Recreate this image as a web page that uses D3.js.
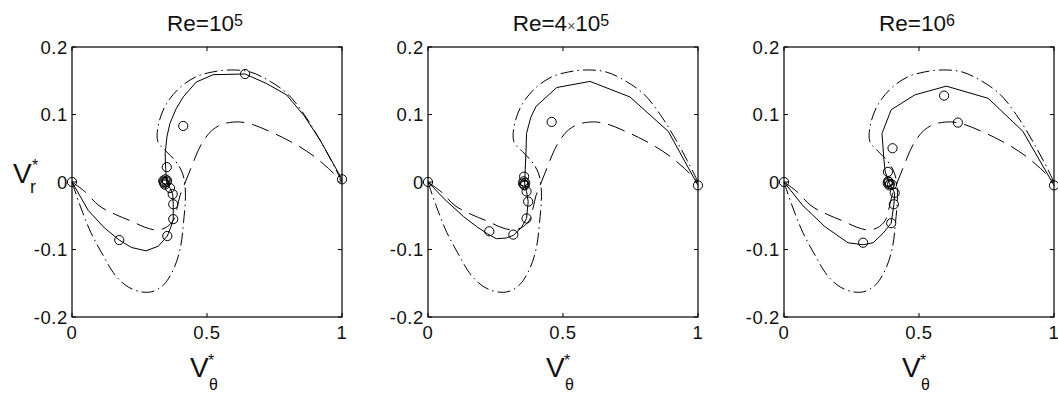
<!DOCTYPE html>
<html>
<head>
<meta charset="utf-8">
<script src="https://cdn.jsdelivr.net/npm/d3@7/dist/d3.min.js"></script>
<style>
  html, body { margin: 0; padding: 0; background: #fff; }
  svg { display: block; }
  text { font-family: "Liberation Sans", Arial, sans-serif; fill: #111; }
</style>
</head>
<body>
<svg id="chart" width="1058" height="401"></svg>
<script>
// ---- data ----
const xTicks = [0, 0.5, 1];
const xTickLabels = ["0", "0.5", "1"];
const yTicks = [-0.2, -0.1, 0, 0.1, 0.2];
const yTickLabels = ["-0.2", "-0.1", "0", "0.1", "0.2"];

const titlesBase = ["Re=10", "Re=4", "Re=10"];
const titlesExp = ["5", "5", "6"];

// dash-dot curve (shared by all panels)
const dashDotV  = [0, 0.03, 0.07, 0.11, 0.16, 0.21, 0.26, 0.30, 0.34, 0.375, 0.40, 0.413, 0.42, 0.41, 0.385, 0.35, 0.318, 0.322, 0.35, 0.40, 0.46, 0.52, 0.59, 0.66, 0.73, 0.80, 0.86, 0.91, 0.96, 1.0];
const dashDotVr = [0, -0.035, -0.075, -0.105, -0.138, -0.156, -0.163, -0.162, -0.152, -0.13, -0.10, -0.06, -0.015, 0.012, 0.03, 0.045, 0.06, 0.088, 0.116, 0.14, 0.156, 0.163, 0.166, 0.163, 0.15, 0.13, 0.10, 0.068, 0.032, 0.0];

// long-dash curve (shared by all panels)
const longDashV  = [0, 0.05, 0.10, 0.16, 0.22, 0.27, 0.31, 0.345, 0.375, 0.39, 0.40, 0.42, 0.44, 0.46, 0.485, 0.52, 0.56, 0.62, 0.67, 0.72, 0.78, 0.84, 0.90, 0.95, 1.0];
const longDashVr = [0, -0.015, -0.035, -0.048, -0.058, -0.067, -0.071, -0.068, -0.057, -0.037, -0.02, 0.0, 0.02, 0.04, 0.06, 0.077, 0.086, 0.089, 0.085, 0.077, 0.066, 0.053, 0.037, 0.02, 0.0];

// solid curves per panel
const solidV1  = [0, 0.06, 0.12, 0.175, 0.22, 0.274, 0.32, 0.353, 0.365, 0.375, 0.375, 0.373, 0.363, 0.35, 0.347, 0.345, 0.352, 0.363, 0.385, 0.412, 0.46, 0.523, 0.641, 0.72, 0.795, 0.86, 0.919, 1.0];
const solidVr1 = [0, -0.042, -0.068, -0.086, -0.097, -0.102, -0.095, -0.080, -0.068, -0.055, -0.033, -0.018, -0.009, 0.0, 0.02, 0.042, 0.068, 0.087, 0.108, 0.126, 0.148, 0.159, 0.160, 0.146, 0.129, 0.098, 0.062, 0.004];
const solidV2  = [0, 0.06, 0.131, 0.18, 0.217, 0.253, 0.29, 0.316, 0.345, 0.365, 0.371, 0.365, 0.358, 0.36, 0.363, 0.365, 0.38, 0.40, 0.477, 0.60, 0.748, 0.89, 1.0];
const solidVr2 = [0, -0.025, -0.051, -0.066, -0.076, -0.084, -0.083, -0.079, -0.068, -0.054, -0.029, -0.014, -0.003, 0.018, 0.045, 0.072, 0.095, 0.112, 0.140, 0.149, 0.126, 0.075, -0.005];
const solidV3  = [0, 0.07, 0.151, 0.237, 0.293, 0.33, 0.367, 0.397, 0.407, 0.41, 0.39, 0.375, 0.37, 0.363, 0.397, 0.484, 0.601, 0.756, 0.885, 1.0];
const solidVr3 = [0, -0.035, -0.066, -0.09, -0.093, -0.09, -0.076, -0.061, -0.033, -0.016, -0.002, 0.015, 0.033, 0.072, 0.107, 0.129, 0.142, 0.124, 0.075, -0.005];

// circle markers per panel
const circV1  = [0, 0.175, 0.353, 0.375, 0.375, 0.373, 0.363, 0.338, 0.342, 0.346, 0.350, 0.344, 0.340, 0.352, 0.351, 0.412, 0.641, 1.0];
const circVr1 = [0, -0.086, -0.080, -0.055, -0.033, -0.018, -0.009, 0.002, -0.002, 0.004, 0.0, -0.004, 0.0, 0.002, 0.022, 0.083, 0.160, 0.004];
const circV2  = [0, 0.227, 0.316, 0.365, 0.371, 0.365, 0.352, 0.356, 0.360, 0.354, 0.358, 0.356, 0.458, 1.0];
const circVr2 = [0, -0.073, -0.078, -0.054, -0.029, -0.014, -0.002, -0.004, -0.001, 0.001, -0.005, 0.008, 0.089, -0.005];
const circV3  = [0, 0.293, 0.397, 0.407, 0.41, 0.384, 0.388, 0.392, 0.386, 0.390, 0.40, 0.385, 0.402, 0.593, 0.644, 1.0];
const circVr3 = [0, -0.090, -0.061, -0.033, -0.016, -0.002, 0.0, -0.003, 0.001, -0.005, -0.004, 0.015, 0.05, 0.128, 0.088, -0.005];

const solidV = [solidV1, solidV2, solidV3];
const solidVr = [solidVr1, solidVr2, solidVr3];
const circV = [circV1, circV2, circV3];
const circVr = [circVr1, circVr2, circVr3];

// ---- layout ----
const svg = d3.select("#chart");
svg.append("rect").attr("width", 1058).attr("height", 401).attr("fill", "#fff");

const panelLeft = [72, 428, 784];
const pw = 270, plotTop = 47, plotBottom = 317;
const zip = (a, b) => a.map((v, i) => [v, b[i]]);

panelLeft.forEach((left, p) => {
  const x = d3.scaleLinear().domain([0, 1]).range([left, left + pw]);
  const y = d3.scaleLinear().domain([-0.2, 0.2]).range([plotBottom, plotTop]);
  const g = svg.append("g");

  const lineSmooth = d3.line().x(d => x(d[0])).y(d => y(d[1])).curve(d3.curveCatmullRom.alpha(0.5));
  const lineLin = d3.line().x(d => x(d[0])).y(d => y(d[1]));

  g.append("path").attr("d", lineSmooth(zip(dashDotV, dashDotVr)))
    .attr("fill", "none").attr("stroke", "#000").attr("stroke-width", 1)
    .attr("stroke-dasharray", "13,4,1.5,4");
  g.append("path").attr("d", lineSmooth(zip(longDashV, longDashVr)))
    .attr("fill", "none").attr("stroke", "#000").attr("stroke-width", 1)
    .attr("stroke-dasharray", "18,8");
  g.append("path").attr("d", lineLin(zip(solidV[p], solidVr[p])))
    .attr("fill", "none").attr("stroke", "#000").attr("stroke-width", 1);

  g.selectAll("circle.m").data(zip(circV[p], circVr[p])).enter().append("circle")
    .attr("class", "m")
    .attr("cx", d => x(d[0])).attr("cy", d => y(d[1])).attr("r", 4.6)
    .attr("fill", "none").attr("stroke", "#000").attr("stroke-width", 1);

  g.append("rect").attr("x", left).attr("y", plotTop).attr("width", pw).attr("height", plotBottom - plotTop)
    .attr("fill", "none").attr("stroke", "#000").attr("stroke-width", 1.2);

  const tl = 4;
  xTicks.forEach((t, i) => {
    g.append("line").attr("x1", x(t)).attr("x2", x(t)).attr("y1", plotBottom).attr("y2", plotBottom - tl).attr("stroke", "#000");
    g.append("line").attr("x1", x(t)).attr("x2", x(t)).attr("y1", plotTop).attr("y2", plotTop + tl).attr("stroke", "#000");
    g.append("text").attr("x", x(t)).attr("y", 339).attr("text-anchor", "middle")
      .attr("font-size", 18.5).attr("letter-spacing", 0.6).text(xTickLabels[i]);
  });
  yTicks.forEach((t, i) => {
    g.append("line").attr("x1", left).attr("x2", left + tl).attr("y1", y(t)).attr("y2", y(t)).attr("stroke", "#000");
    g.append("line").attr("x1", left + pw).attr("x2", left + pw - tl).attr("y1", y(t)).attr("y2", y(t)).attr("stroke", "#000");
    g.append("text").attr("x", left - 4).attr("y", y(t)).attr("dy", "0.36em").attr("text-anchor", "end")
      .attr("font-size", 18.5).attr("letter-spacing", 0.6).text(yTickLabels[i]);
  });

  const cx = left + pw / 2;
  const title = g.append("text").attr("x", cx - 2).attr("y", 31).attr("text-anchor", "middle").attr("font-size", 22.5);
  title.append("tspan").text(titlesBase[p]);
  if (p === 1) {
    title.append("tspan").attr("font-size", 14).attr("fill", "#555").text("\u00d7");
    title.append("tspan").text("10");
  }
  title.append("tspan").attr("font-size", 16).attr("dy", -5).text(titlesExp[p]);

  g.append("text").attr("x", cx - 17).attr("y", 377).attr("font-size", 28).text("V");
  g.append("text").attr("x", cx + 2).attr("y", 390).attr("font-size", 16).text("\u03b8");
  g.append("text").attr("x", cx + 1).attr("y", 366).attr("font-size", 16).text("*");
});

svg.append("text").attr("x", 13).attr("y", 183).attr("font-size", 28).text("V");
svg.append("text").attr("x", 30).attr("y", 193).attr("font-size", 18).text("r");
svg.append("text").attr("x", 32).attr("y", 171).attr("font-size", 16).text("*");
</script>
</body>
</html>
